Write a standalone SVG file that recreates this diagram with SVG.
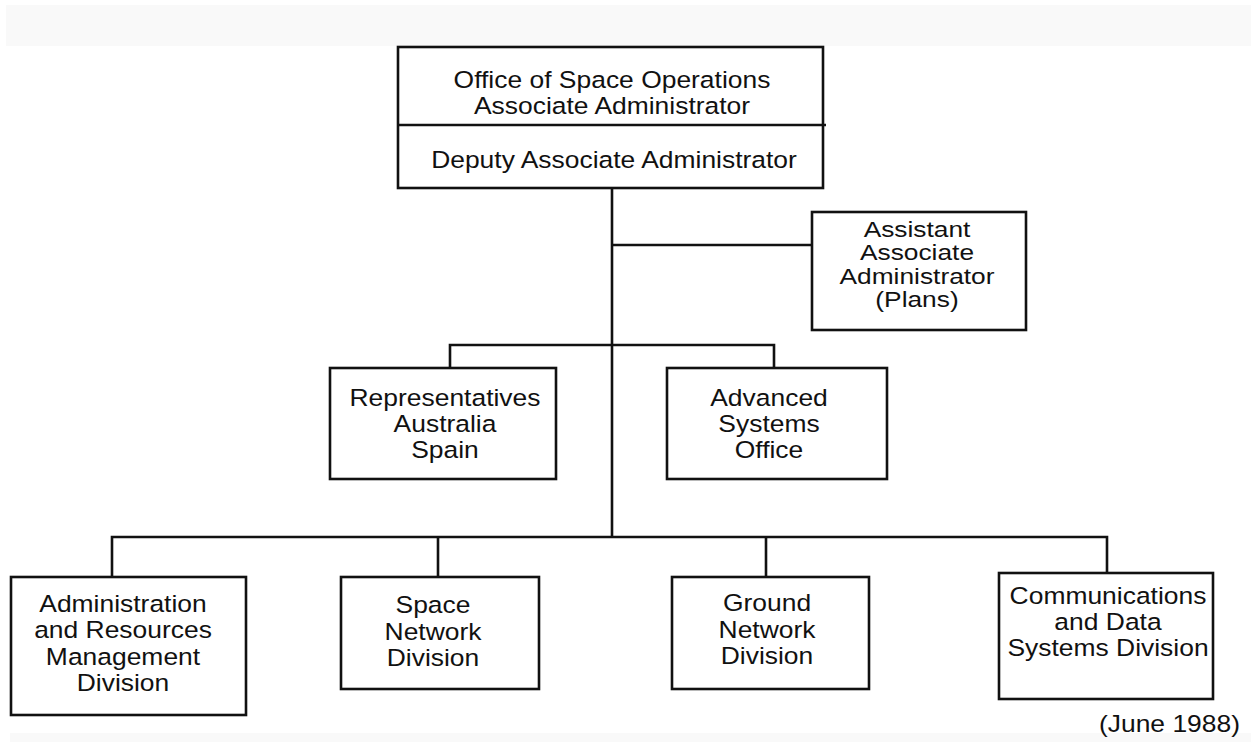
<svg xmlns="http://www.w3.org/2000/svg" width="1251" height="742" viewBox="0 0 1251 742">
<style>
.box{fill:#fff;stroke:#111;stroke-width:2.6}
.ln{fill:none;stroke:#111;stroke-width:2.6}
.t{font-family:"Liberation Sans",Arial,sans-serif;font-size:23.5px;fill:#111;text-anchor:middle}
.ts{font-size:22.5px}
.band{fill:#f9f9f9}
</style>
<rect width="1251" height="742" fill="#fff"/>
<rect class="band" x="6" y="5" width="1245" height="41"/>
<rect class="band" x="10" y="733" width="1241" height="9"/>
<g id="connectors">
<path class="ln" d="M612 188 V537"/>
<path class="ln" d="M612 245 H812"/>
<path class="ln" d="M450 368 V345 H774 V368"/>
<path class="ln" d="M112 577 V537 H1107 V573"/>
<path class="ln" d="M438 537 V577"/>
<path class="ln" d="M766 537 V577"/>
</g>
<g id="node-office">
<rect class="box" x="398" y="47" width="425" height="141"/>
<path class="ln" d="M398 125 H826"/>
<text class="t" transform="translate(612 0) scale(1.125 1)"><tspan x="0" y="88">Office of Space Operations</tspan><tspan x="0" y="114">Associate Administrator</tspan></text>
<text class="t" transform="translate(614 0) scale(1.125 1)"><tspan x="0" y="168">Deputy Associate Administrator</tspan></text>
</g>
<g id="node-assistant">
<rect class="box" x="812" y="212" width="214" height="118"/>
<text class="t ts" transform="translate(917 0) scale(1.17 1)"><tspan x="0" y="237">Assistant</tspan><tspan x="0" y="260.3">Associate</tspan><tspan x="0" y="283.6">Administrator</tspan><tspan x="0" y="307">(Plans)</tspan></text>
</g>
<g id="node-representatives">
<rect class="box" x="330" y="368" width="226" height="111"/>
<text class="t" transform="translate(445 0) scale(1.125 1)"><tspan x="0" y="406">Representatives</tspan><tspan x="0" y="432">Australia</tspan><tspan x="0" y="458">Spain</tspan></text>
</g>
<g id="node-advanced">
<rect class="box" x="667" y="368" width="220" height="111"/>
<text class="t" transform="translate(769 0) scale(1.125 1)"><tspan x="0" y="406">Advanced</tspan><tspan x="0" y="432">Systems</tspan><tspan x="0" y="458">Office</tspan></text>
</g>
<g id="node-admin">
<rect class="box" x="11" y="577" width="235" height="138"/>
<text class="t" transform="translate(123 0) scale(1.125 1)"><tspan x="0" y="612">Administration</tspan><tspan x="0" y="638">and Resources</tspan><tspan x="0" y="665">Management</tspan><tspan x="0" y="691">Division</tspan></text>
</g>
<g id="node-space">
<rect class="box" x="341" y="577" width="198" height="112"/>
<text class="t" transform="translate(433 0) scale(1.125 1)"><tspan x="0" y="613">Space</tspan><tspan x="0" y="640">Network</tspan><tspan x="0" y="666">Division</tspan></text>
</g>
<g id="node-ground">
<rect class="box" x="672" y="577" width="197" height="112"/>
<text class="t" transform="translate(767 0) scale(1.125 1)"><tspan x="0" y="611">Ground</tspan><tspan x="0" y="638">Network</tspan><tspan x="0" y="664">Division</tspan></text>
</g>
<g id="node-comm">
<rect class="box" x="999" y="573" width="214" height="126"/>
<text class="t" transform="translate(1108 0) scale(1.125 1)"><tspan x="0" y="604">Communications</tspan><tspan x="0" y="630">and Data</tspan><tspan x="0" y="656">Systems Division</tspan></text>
</g>
<text class="t" style="text-anchor:end" transform="translate(1240 0) scale(1.125 1)" x="0" y="732">(June 1988)</text>
</svg>
